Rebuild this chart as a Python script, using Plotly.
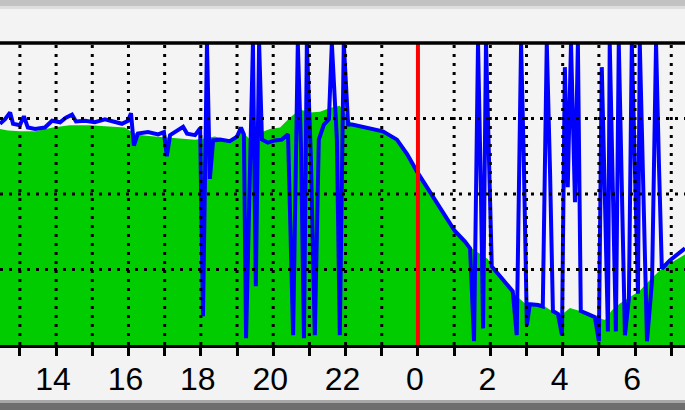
import plotly.graph_objects as go

# ---- data (hours on a continuous clock: 24 = midnight, 30 = 06:00) ----
in_hours = [12.45, 12.67, 13.00, 13.42, 13.91, 14.38, 14.94, 15.49, 15.90, 16.10,
            16.32, 16.73, 17.06, 17.42, 17.84, 18.11, 18.39, 18.80, 19.14, 19.36,
            19.69, 19.91, 20.19, 20.46, 20.74, 21.02, 21.29, 21.57, 21.84, 22.07,
            22.18, 22.54, 23.03, 23.42, 23.70, 23.97, 24.33, 24.69, 25.02, 25.30,
            25.49, 25.71, 25.93, 26.13, 26.40, 26.68, 26.96, 27.23, 27.51, 27.70,
            27.92, 28.20, 28.48, 28.75, 28.97, 29.17, 29.36, 29.58, 29.86, 30.13,
            30.41, 30.69, 30.96, 31.38]
in_vals = [2.86, 2.84, 2.83, 2.83, 2.88, 2.91, 2.91, 2.89, 2.88, 2.82,
           2.78, 2.76, 2.75, 2.74, 2.72, 2.74, 2.76, 2.70, 2.83, 2.72,
           2.82, 2.86, 2.88, 3.01, 3.12, 3.08, 3.09, 3.14, 3.17, 3.01,
           2.92, 2.88, 2.83, 2.72, 2.53, 2.30, 2.03, 1.74, 1.51, 1.37,
           1.28, 1.21, 1.14, 0.99, 0.83, 0.67, 0.55, 0.53, 0.51, 0.45,
           0.38, 0.49, 0.45, 0.38, 0.36, 0.33, 0.46, 0.55, 0.64, 0.72,
           0.86, 0.99, 1.08, 1.20]

out_hours = [12.45, 12.59, 12.73, 12.81, 13.00, 13.11, 13.22, 13.42, 13.69, 13.89,
             14.11, 14.27, 14.44, 14.55, 14.80, 15.07, 15.35, 15.63, 15.82, 15.99,
             16.07, 16.15, 16.26, 16.54, 16.82, 16.98, 17.06, 17.15, 17.37, 17.51,
             17.62, 17.84, 17.98, 18.06, 18.17, 18.25, 18.34, 18.53, 18.80, 19.00,
             19.11, 19.19, 19.25, 19.44, 19.52, 19.61, 19.69, 19.85, 20.05, 20.24,
             20.41, 20.55, 20.68, 20.77, 20.85, 20.93, 21.04, 21.15, 21.26, 21.40,
             21.54, 21.62, 21.76, 21.84, 21.95, 22.07, 22.18, 22.54, 23.03, 23.42,
             23.70, 23.97, 24.33, 24.69, 25.02, 25.30, 25.44, 25.55, 25.66, 25.74,
             25.80, 25.88, 25.96, 26.04, 26.27, 26.49, 26.62, 26.73, 26.85, 26.93,
             27.01, 27.09, 27.32, 27.45, 27.56, 27.65, 27.73, 27.87, 27.98, 28.06,
             28.14, 28.23, 28.34, 28.42, 28.50, 28.70, 28.89, 29.00, 29.08, 29.17,
             29.25, 29.30, 29.39, 29.47, 29.55, 29.64, 29.72, 29.83, 29.91, 30.00,
             30.08, 30.13, 30.22, 30.33, 30.47, 30.58, 30.66, 30.74, 30.96, 31.38]
out_vals = [2.93, 2.99, 3.08, 2.93, 2.91, 3.03, 2.88, 2.86, 2.88, 2.97,
            2.95, 3.01, 3.05, 2.96, 2.97, 2.95, 2.99, 2.96, 2.93, 2.97,
            3.07, 2.64, 2.80, 2.82, 2.79, 2.82, 2.50, 2.78, 2.84, 2.89,
            2.80, 2.78, 2.87, 0.38, 4.00, 2.20, 2.71, 2.72, 2.70, 2.76,
            2.88, 2.79, 0.09, 4.00, 0.78, 4.00, 2.72, 2.68, 2.71, 2.72,
            2.79, 0.13, 4.00, 2.59, 0.09, 4.00, 2.50, 0.13, 2.72, 2.92,
            2.99, 4.00, 2.72, 0.13, 4.00, 2.92, 2.92, 2.88, 2.83, 2.72,
            2.53, 2.30, 2.03, 1.74, 1.51, 1.37, 1.28, 0.05, 4.00, 2.04,
            0.22, 4.00, 2.55, 1.04, 0.91, 0.78, 0.71, 0.13, 4.00, 2.33,
            0.26, 0.54, 0.53, 0.51, 4.00, 2.30, 0.45, 0.41, 0.13, 3.68,
            2.09, 4.00, 1.89, 4.00, 0.45, 0.41, 0.37, 0.05, 3.68, 1.87,
            0.18, 4.00, 2.13, 0.18, 4.00, 2.20, 0.13, 0.62, 4.00, 2.26,
            0.68, 4.00, 2.39, 0.05, 0.86, 4.00, 2.39, 1.01, 1.12, 1.28]

tick_hours = [13, 14, 15, 16, 17, 18, 19, 20, 21, 22, 23, 24, 25, 26, 27, 28, 29, 30, 31]
tick_labels = ["", "14", "", "16", "", "18", "", "20", "", "22", "", "0", "", "2", "", "4", "", "6", ""]
grid_levels = [1, 2, 3]
now_hour = 24
x_range = [12.45, 31.38]
y_range = [0, 4]

# ---- figure ----
fig = go.Figure()
fig.add_trace(go.Scatter(x=in_hours, y=in_vals, mode="lines", fill="tozeroy",
                         fillcolor="#00cc00", line=dict(width=0, color="#00cc00"),
                         hoverinfo="skip"))
fig.add_trace(go.Scatter(x=out_hours, y=out_vals, mode="lines",
                         line=dict(width=4, color="#0000ff"), hoverinfo="skip"))

shapes = []
plot_top, plot_bot = 43, 345
def py(p):
    return (plot_bot - p) / (plot_bot - plot_top)
# page decoration bands
shapes.append(dict(type="rect", xref="paper", yref="paper", x0=0, x1=1, y0=py(0), y1=py(6),
                   fillcolor="#c2c2c2", line=dict(width=0), layer="below"))
shapes.append(dict(type="rect", xref="paper", yref="paper", x0=0, x1=1, y0=py(6), y1=py(9),
                   fillcolor="#dedede", line=dict(width=0), layer="below"))
shapes.append(dict(type="rect", xref="paper", yref="paper", x0=0, x1=1, y0=py(400), y1=py(403),
                   fillcolor="#a8a8a8", line=dict(width=0), layer="below"))
shapes.append(dict(type="rect", xref="paper", yref="paper", x0=0, x1=1, y0=py(403), y1=py(411),
                   fillcolor="#6e6e6e", line=dict(width=0), layer="below"))

for h in tick_hours:
    if h == now_hour:
        continue
    shapes.append(dict(type="line", xref="x", yref="paper", x0=h, x1=h, y0=0, y1=1,
                       line=dict(color="black", width=3, dash="3px,6px"), layer="above"))
for lv in grid_levels:
    shapes.append(dict(type="line", xref="paper", yref="y", x0=0, x1=1, y0=lv, y1=lv,
                       line=dict(color="black", width=3, dash="3px,6px"), layer="above"))
shapes.append(dict(type="line", xref="x", yref="paper", x0=now_hour, x1=now_hour, y0=0, y1=1,
                   line=dict(color="#ff0000", width=4), layer="above"))
shapes.append(dict(type="line", xref="paper", yref="paper", x0=0, x1=1, y0=1, y1=1,
                   line=dict(color="black", width=3.5), layer="above"))

fig.update_layout(
    width=685, height=410,
    margin=dict(l=0, r=0, t=plot_top, b=410 - plot_bot),
    paper_bgcolor="#f3f3f3", plot_bgcolor="#f4f4f4",
    showlegend=False, shapes=shapes,
    xaxis=dict(range=x_range, tickmode="array", tickvals=tick_hours, ticktext=tick_labels,
               ticks="outside", ticklen=8, tickwidth=3, tickcolor="black",
               showline=True, linecolor="black", linewidth=3, showgrid=False, zeroline=False,
               layer="above traces", ticklabelshift=-3, ticklabelstandoff=-4,
               tickfont=dict(family="Liberation Sans", size=32, color="black"),
               fixedrange=True),
    yaxis=dict(range=y_range, showgrid=False, zeroline=False, showticklabels=False,
               showline=False, ticks="", fixedrange=True),
)

fig.write_html("out.html", config={"displayModeBar": False},
               post_script="document.body.style.margin='0px';document.body.style.overflow='hidden';")
